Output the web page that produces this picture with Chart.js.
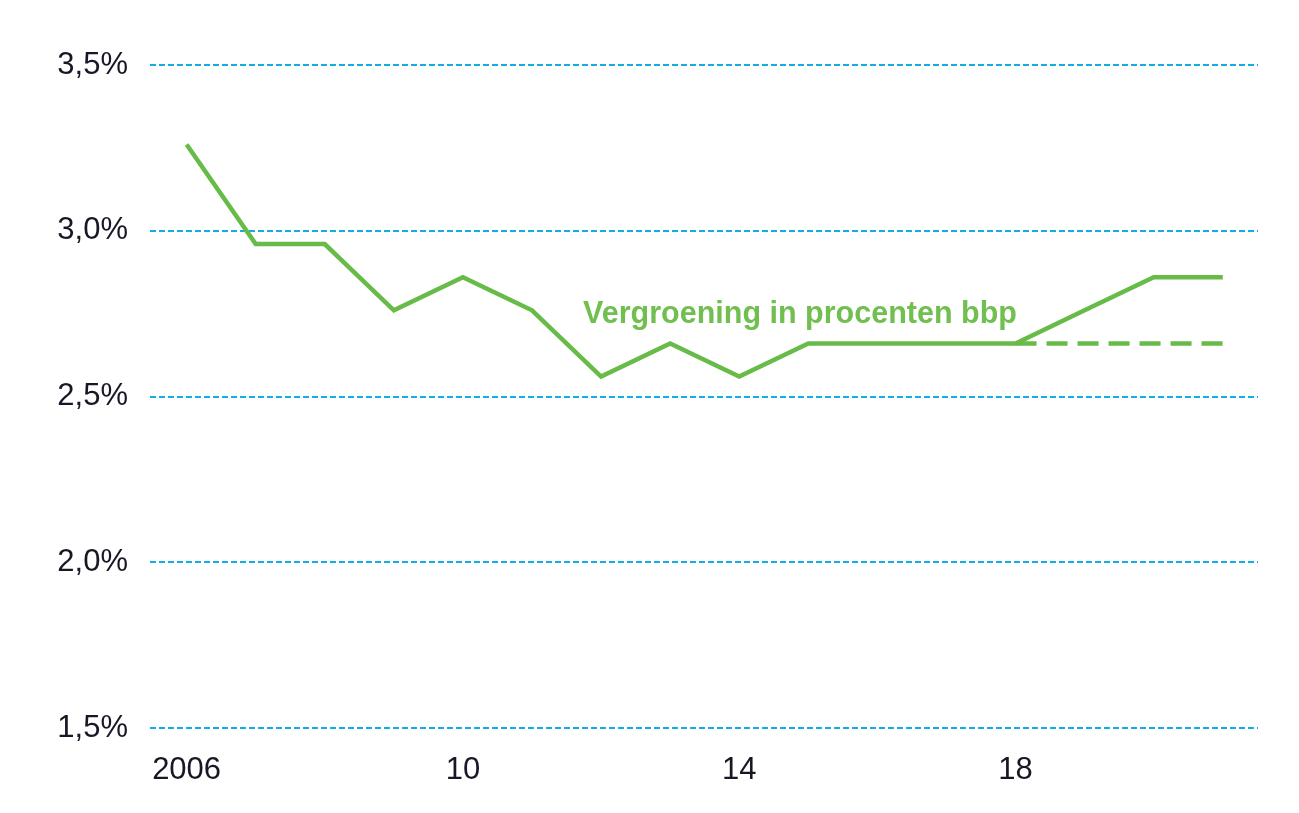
<!DOCTYPE html>
<html>
<head>
<meta charset="utf-8">
<script src="https://cdn.jsdelivr.net/npm/chart.js@4.4.1/dist/chart.umd.min.js"></script>
<style>
  html, body { margin: 0; padding: 0; background: #ffffff; }
  #wrap { width: 1299px; height: 813px; position: relative; }
</style>
</head>
<body>
<div id="wrap"><canvas id="c"></canvas></div>
<script>
// ---- data ----
const years = [2006, 2007, 2008, 2009, 2010, 2011, 2012, 2013, 2014, 2015, 2016, 2017, 2018, 2019, 2020, 2021];
const greening = [3.26, 2.96, 2.96, 2.76, 2.86, 2.76, 2.56, 2.66, 2.56, 2.66, 2.66, 2.66, 2.66, 2.76, 2.86, 2.86];
const projYears = [2018, 2019, 2020, 2021];
const projection = [2.66, 2.66, 2.66, 2.66];
const xTickValues = [2006, 2010, 2014, 2018];
const xTickLabels = ['2006', '10', '14', '18'];
const yTickValues = [1.5, 2.0, 2.5, 3.0, 3.5];
const yTickLabels = ['1,5%', '2,0%', '2,5%', '3,0%', '3,5%'];
const annotationText = 'Vergroening in procenten bbp';
const annotationPos = { x: 2011.74, y: 2.722 };

const GREEN = '#67bb48';
const TEXT = '#171726';
const GRID = '#14abe6';
const FONT = "'Liberation Sans', Arial, sans-serif";

const annotationPlugin = {
  id: 'annot',
  afterDatasetsDraw(chart) {
    const { ctx, scales } = chart;
    const x = scales.x.getPixelForValue(annotationPos.x);
    const y = scales.y.getPixelForValue(annotationPos.y);
    ctx.save();
    ctx.font = 'bold 30.5px ' + FONT;
    ctx.fillStyle = '#70bf50';
    ctx.textAlign = 'left';
    ctx.textBaseline = 'alphabetic';
    ctx.fillText(annotationText, x, y);
    ctx.restore();
  }
};

new Chart(document.getElementById('c'), {
  type: 'line',
  data: {
    datasets: [
      {
        data: years.map((y, i) => ({ x: y, y: greening[i] })),
        borderColor: GREEN,
        borderWidth: 4.5,
        pointRadius: 0,
        tension: 0,
        fill: false,
        order: 1
      },
      {
        data: projYears.map((y, i) => ({ x: y, y: projection[i] })),
        borderColor: GREEN,
        borderWidth: 4.5,
        borderDash: [21, 10],
        pointRadius: 0,
        tension: 0,
        fill: false,
        order: 2
      }
    ]
  },
  options: {
    responsive: true,
    maintainAspectRatio: false,
    animation: false,
    layout: { padding: { top: 65, right: 41, bottom: 0, left: 0 } },
    plugins: { legend: { display: false }, tooltip: { enabled: false } },
    scales: {
      x: {
        type: 'linear',
        min: 2005.47,
        max: 2021.51,
        afterBuildTicks(scale) { scale.ticks = xTickValues.map(v => ({ value: v })); },
        afterFit(scale) { scale.height = 85; },
        grid: { display: false, drawTicks: false },
        border: { display: false },
        ticks: {
          padding: 24,
          color: TEXT,
          font: { family: FONT, size: 31 },
          maxRotation: 0,
          autoSkip: false,
          callback: (v) => { const i = xTickValues.indexOf(v); return i >= 0 ? xTickLabels[i] : ''; }
        }
      },
      y: {
        min: 1.5,
        max: 3.5,
        afterBuildTicks(scale) { scale.ticks = yTickValues.map(v => ({ value: v })); },
        afterFit(scale) { scale.width = 150; },
        grid: { color: GRID, lineWidth: 2, drawTicks: false },
        border: { display: false, dash: [6, 3] },
        ticks: {
          padding: 22,
          color: TEXT,
          font: { family: FONT, size: 31 },
          callback: (v) => { const i = yTickValues.indexOf(v); return i >= 0 ? yTickLabels[i] : ''; }
        }
      }
    }
  },
  plugins: [annotationPlugin]
});
</script>
</body>
</html>
